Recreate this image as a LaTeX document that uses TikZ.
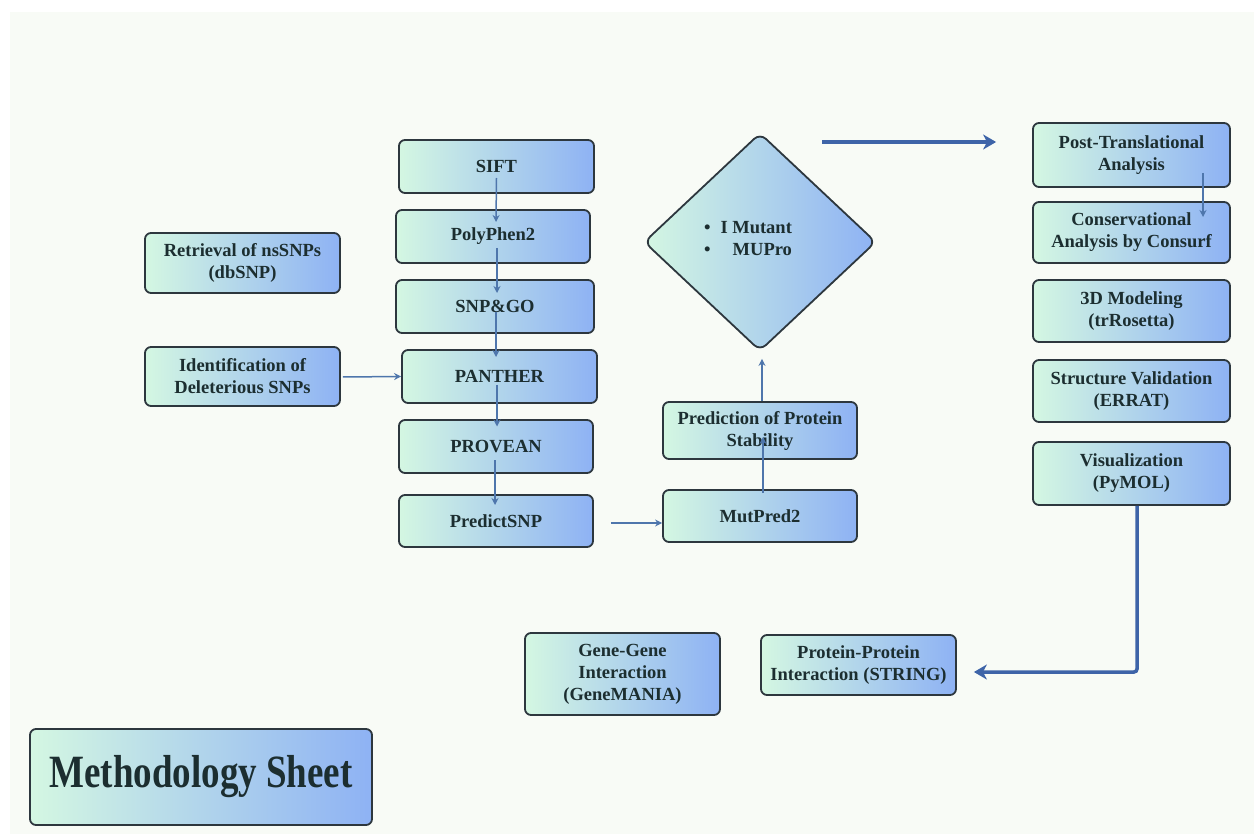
\documentclass[tikz,border=0pt]{standalone}
\usepackage{fontspec}
\usepackage{graphicx}
\setmainfont{Liberation Serif}
\usetikzlibrary{shapes.geometric,arrows.meta}
\definecolor{bgpanel}{RGB}{248,251,246}
\definecolor{gleft}{RGB}{212,247,226}
\definecolor{gright}{RGB}{142,178,244}
\definecolor{boxline}{RGB}{45,55,62}
\definecolor{txtcol}{RGB}{28,46,48}
\definecolor{arrowblue}{RGB}{78,118,172}
\definecolor{bigblue}{RGB}{62,100,168}
\tikzset{
  box/.style={draw=boxline, line width=1.8pt, rounded corners=6pt,
    left color=gleft, right color=gright,
    text=txtcol, align=center, inner sep=2pt,
    font=\fontsize{18.5}{22}\selectfont\bfseries},
  diam/.style={diamond, draw=boxline, line width=1.8pt, rounded corners=8pt,
    left color=gleft, right color=gright, aspect=1.06,
    minimum width=232pt, minimum height=218pt, inner sep=0pt},
  plain/.style={text=txtcol, font=\fontsize{18.5}{22}\selectfont\bfseries, inner sep=0pt},
  thin/.style={draw=arrowblue, line width=1.5pt, -{Stealth[length=7pt,width=7pt]}},
  thick/.style={draw=bigblue, line width=3.5pt, -{Stealth[length=13pt,width=15pt,inset=4pt]}}
}
\begin{document}
\begin{tikzpicture}[x=1pt,y=-1pt]
\useasboundingbox (0,0) rectangle (1254,834);
\fill[white] (0,0) rectangle (1254,834);
\fill[bgpanel] (10,12) rectangle (1254,834);

% left column
\node[box, minimum width=195pt, minimum height=60pt] (retr) at (242.5,263) {Retrieval of nsSNPs\\(dbSNP)};
\node[box, minimum width=195pt, minimum height=59pt] (ident) at (242.5,376.5) {Identification of\\Deleterious SNPs};

% center column
\node[box, minimum width=195pt, minimum height=53pt] (sift) at (496.5,166.5) {SIFT};
\node[box, minimum width=194pt, minimum height=53pt] (poly) at (493,236.5) {PolyPhen2};
\node[box, minimum width=198pt, minimum height=53pt] (snpgo) at (495,306.5) {SNP\&GO};
\node[box, minimum width=195pt, minimum height=53pt] (panther) at (499.5,376.5) {PANTHER};
\node[box, minimum width=194pt, minimum height=53pt] (provean) at (496,446.5) {PROVEAN};
\node[box, minimum width=194pt, minimum height=52pt] (psnp) at (496,521) {PredictSNP};

% stability column
\node[diam] (dia) at (760,242) {};
\node[plain, align=left] (diatext) at (748,240) {\begin{tabular}{@{}l@{\hspace{10pt}}r@{}}\textbullet & I Mutant\\[0pt] \textbullet & MUPro\end{tabular}};
\node[box, minimum width=194pt, minimum height=57pt] (stab) at (760,430.5) {Prediction of Protein\\Stability};
\node[box, minimum width=194pt, minimum height=52pt] (mutp) at (760,516) {MutPred2};

% right column
\node[box, minimum width=197pt, minimum height=64pt] (post) at (1131.5,155) {Post-Translational\\Analysis};
\node[box, minimum width=197pt, minimum height=61pt] (cons) at (1131.5,232.5) {Conservational\\Analysis by Consurf};
\node[box, minimum width=197pt, minimum height=62pt] (model) at (1131.5,311) {3D Modeling\\(trRosetta)};
\node[box, minimum width=197pt, minimum height=62pt] (valid) at (1131.5,391) {Structure Validation\\(ERRAT)};
\node[box, minimum width=197pt, minimum height=63pt] (vis) at (1131.5,473.5) {Visualization\\(PyMOL)};

% bottom
\node[box, minimum width=195pt, minimum height=60pt] (ppi) at (858.5,665) {Protein-Protein\\Interaction (STRING)};
\node[box, minimum width=195pt, minimum height=82pt] (ggi) at (622.5,674) {Gene-Gene\\Interaction\\(GeneMANIA)};
\node[box, minimum width=342pt, minimum height=96pt, font=\fontsize{37}{40}\selectfont\bfseries] (meth) at (201,777) {\scalebox{1}[1.25]{Methodology Sheet}};

% thin connectors
\draw[thin] ([shift={(0,11.5)}]sift.center) -- ([shift={(3,-14.5)}]poly.center);
\draw[thin] ([shift={(4,11.5)}]poly.center) -- ([shift={(2,-13.5)}]snpgo.center);
\draw[thin] ([shift={(1,5.5)}]snpgo.center) -- ([shift={(-3.5,-19.5)}]panther.center);
\draw[thin] ([shift={(-2.5,8.5)}]panther.center) -- ([shift={(1,-20)}]provean.center);
\draw[thin] ([shift={(-1,13.5)}]provean.center) -- ([shift={(-1,-16)}]psnp.center);
\draw[thin] ([shift={(2,0.5)}]ident.east) -- (panther.west);
\draw[thin] ([shift={(17,2)}]psnp.east) -- ([shift={(0,7)}]mutp.west);
\draw[thin] ([shift={(3,-23)}]mutp.center) -- ([shift={(3,6.5)}]stab.center);
\draw[thin] ([shift={(2,0)}]stab.north) -- ([shift={(2,7)}]dia.south);
\draw[thin] ([shift={(71.5,18)}]post.center) -- ([shift={(71.5,-15.5)}]cons.center);

% thick connectors
\draw[thick] ([shift={(62,-100)}]dia.center) -- ([shift={(-36,-13)}]post.west);
\draw[thick, rounded corners=3pt] ([shift={(5.5,0)}]vis.south) |- ([shift={(17,7)}]ppi.east);
\end{tikzpicture}
\end{document}
